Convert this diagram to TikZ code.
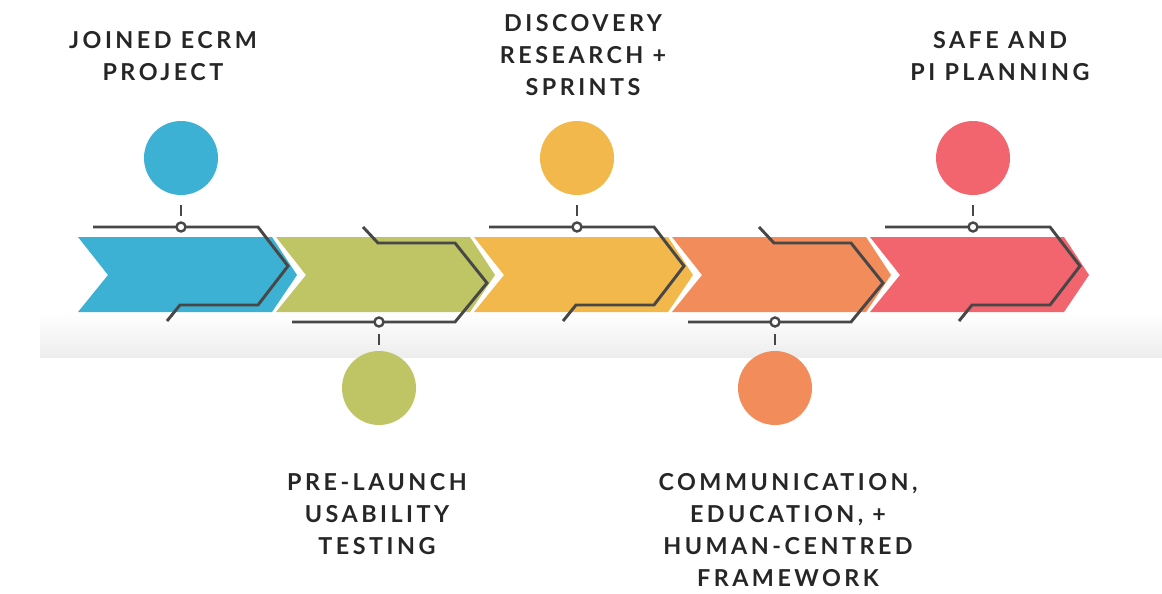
\documentclass[tikz,border=0pt]{standalone}
\usepackage{fontspec}
\setmainfont{Lato}[UprightFont=* Bold,LetterSpace=15]
\begin{document}
\begin{tikzpicture}[x=0.75pt,y=-0.75pt,
  wire/.style={draw=black!72,line width=2.2pt,line join=miter},
  lab/.style={align=center,font=\fontsize{17.5}{24}\selectfont,text=black!85,inner sep=0pt},
  dot/.style={circle,minimum size=74*0.75pt,inner sep=0pt}]
\useasboundingbox (0,0) rectangle (1162,593);
\shade[top color=white,bottom color=black!7] (40,312) rectangle (1162,357);
\definecolor{c1}{HTML}{3DB1D3}\definecolor{c2}{HTML}{BFC465}\definecolor{c3}{HTML}{F2B84B}
\definecolor{c4}{HTML}{F28C5A}\definecolor{c5}{HTML}{F2646E}
\foreach \i/\c in {0/c1,1/c2,2/c3,3/c4,4/c5}{
  \pgfmathsetmacro\o{198*\i}
  \fill[\c] (78+\o,237) -- (272+\o,237) -- (297+\o,275) -- (272+\o,312) -- (78+\o,312) -- (108+\o,275) -- cycle;
}
\foreach \i in {0,2,4}{
  \pgfmathsetmacro\o{198*\i}
  \draw[wire] (93+\o,227) -- (258+\o,227) -- (288+\o,266) -- (258+\o,305) -- (180+\o,305) -- (167+\o,321);
  \draw[wire] (181+\o,205) -- (181+\o,216);
  \draw[wire,fill=white,line width=1.8pt] (181+\o,227) circle[radius=4.5];
}
\foreach \i in {1,3}{
  \pgfmathsetmacro\o{198*(\i-1)}
  \draw[wire] (363+\o,227) -- (378+\o,243) -- (455+\o,243) -- (487+\o,283) -- (455+\o,322) -- (292+\o,322);
  \draw[wire] (379+\o,334) -- (379+\o,345);
  \draw[wire,fill=white,line width=1.8pt] (379+\o,322) circle[radius=4.5];
}
\node[dot,fill=c1] (d1) at (181,158) {};
\node[dot,fill=c2] (d2) at (379,388) {};
\node[dot,fill=c3] (d3) at (577,158) {};
\node[dot,fill=c4] (d4) at (775,388) {};
\node[dot,fill=c5] (d5) at (973,158) {};
\node[lab] (t1) at (163,56) {JOINED ECRM\\PROJECT};
\node[lab] (t3) at (583,55) {DISCOVERY\\RESEARCH +\\SPRINTS};
\node[lab] (t5) at (1000,56) {SAFE AND\\PI PLANNING};
\node[lab] (t2) at (377,514) {PRE-LAUNCH\\USABILITY\\TESTING};
\node[lab] (t4) at (788,530) {COMMUNICATION,\\EDUCATION, +\\HUMAN-CENTRED\\FRAMEWORK};
\end{tikzpicture}
\end{document}
